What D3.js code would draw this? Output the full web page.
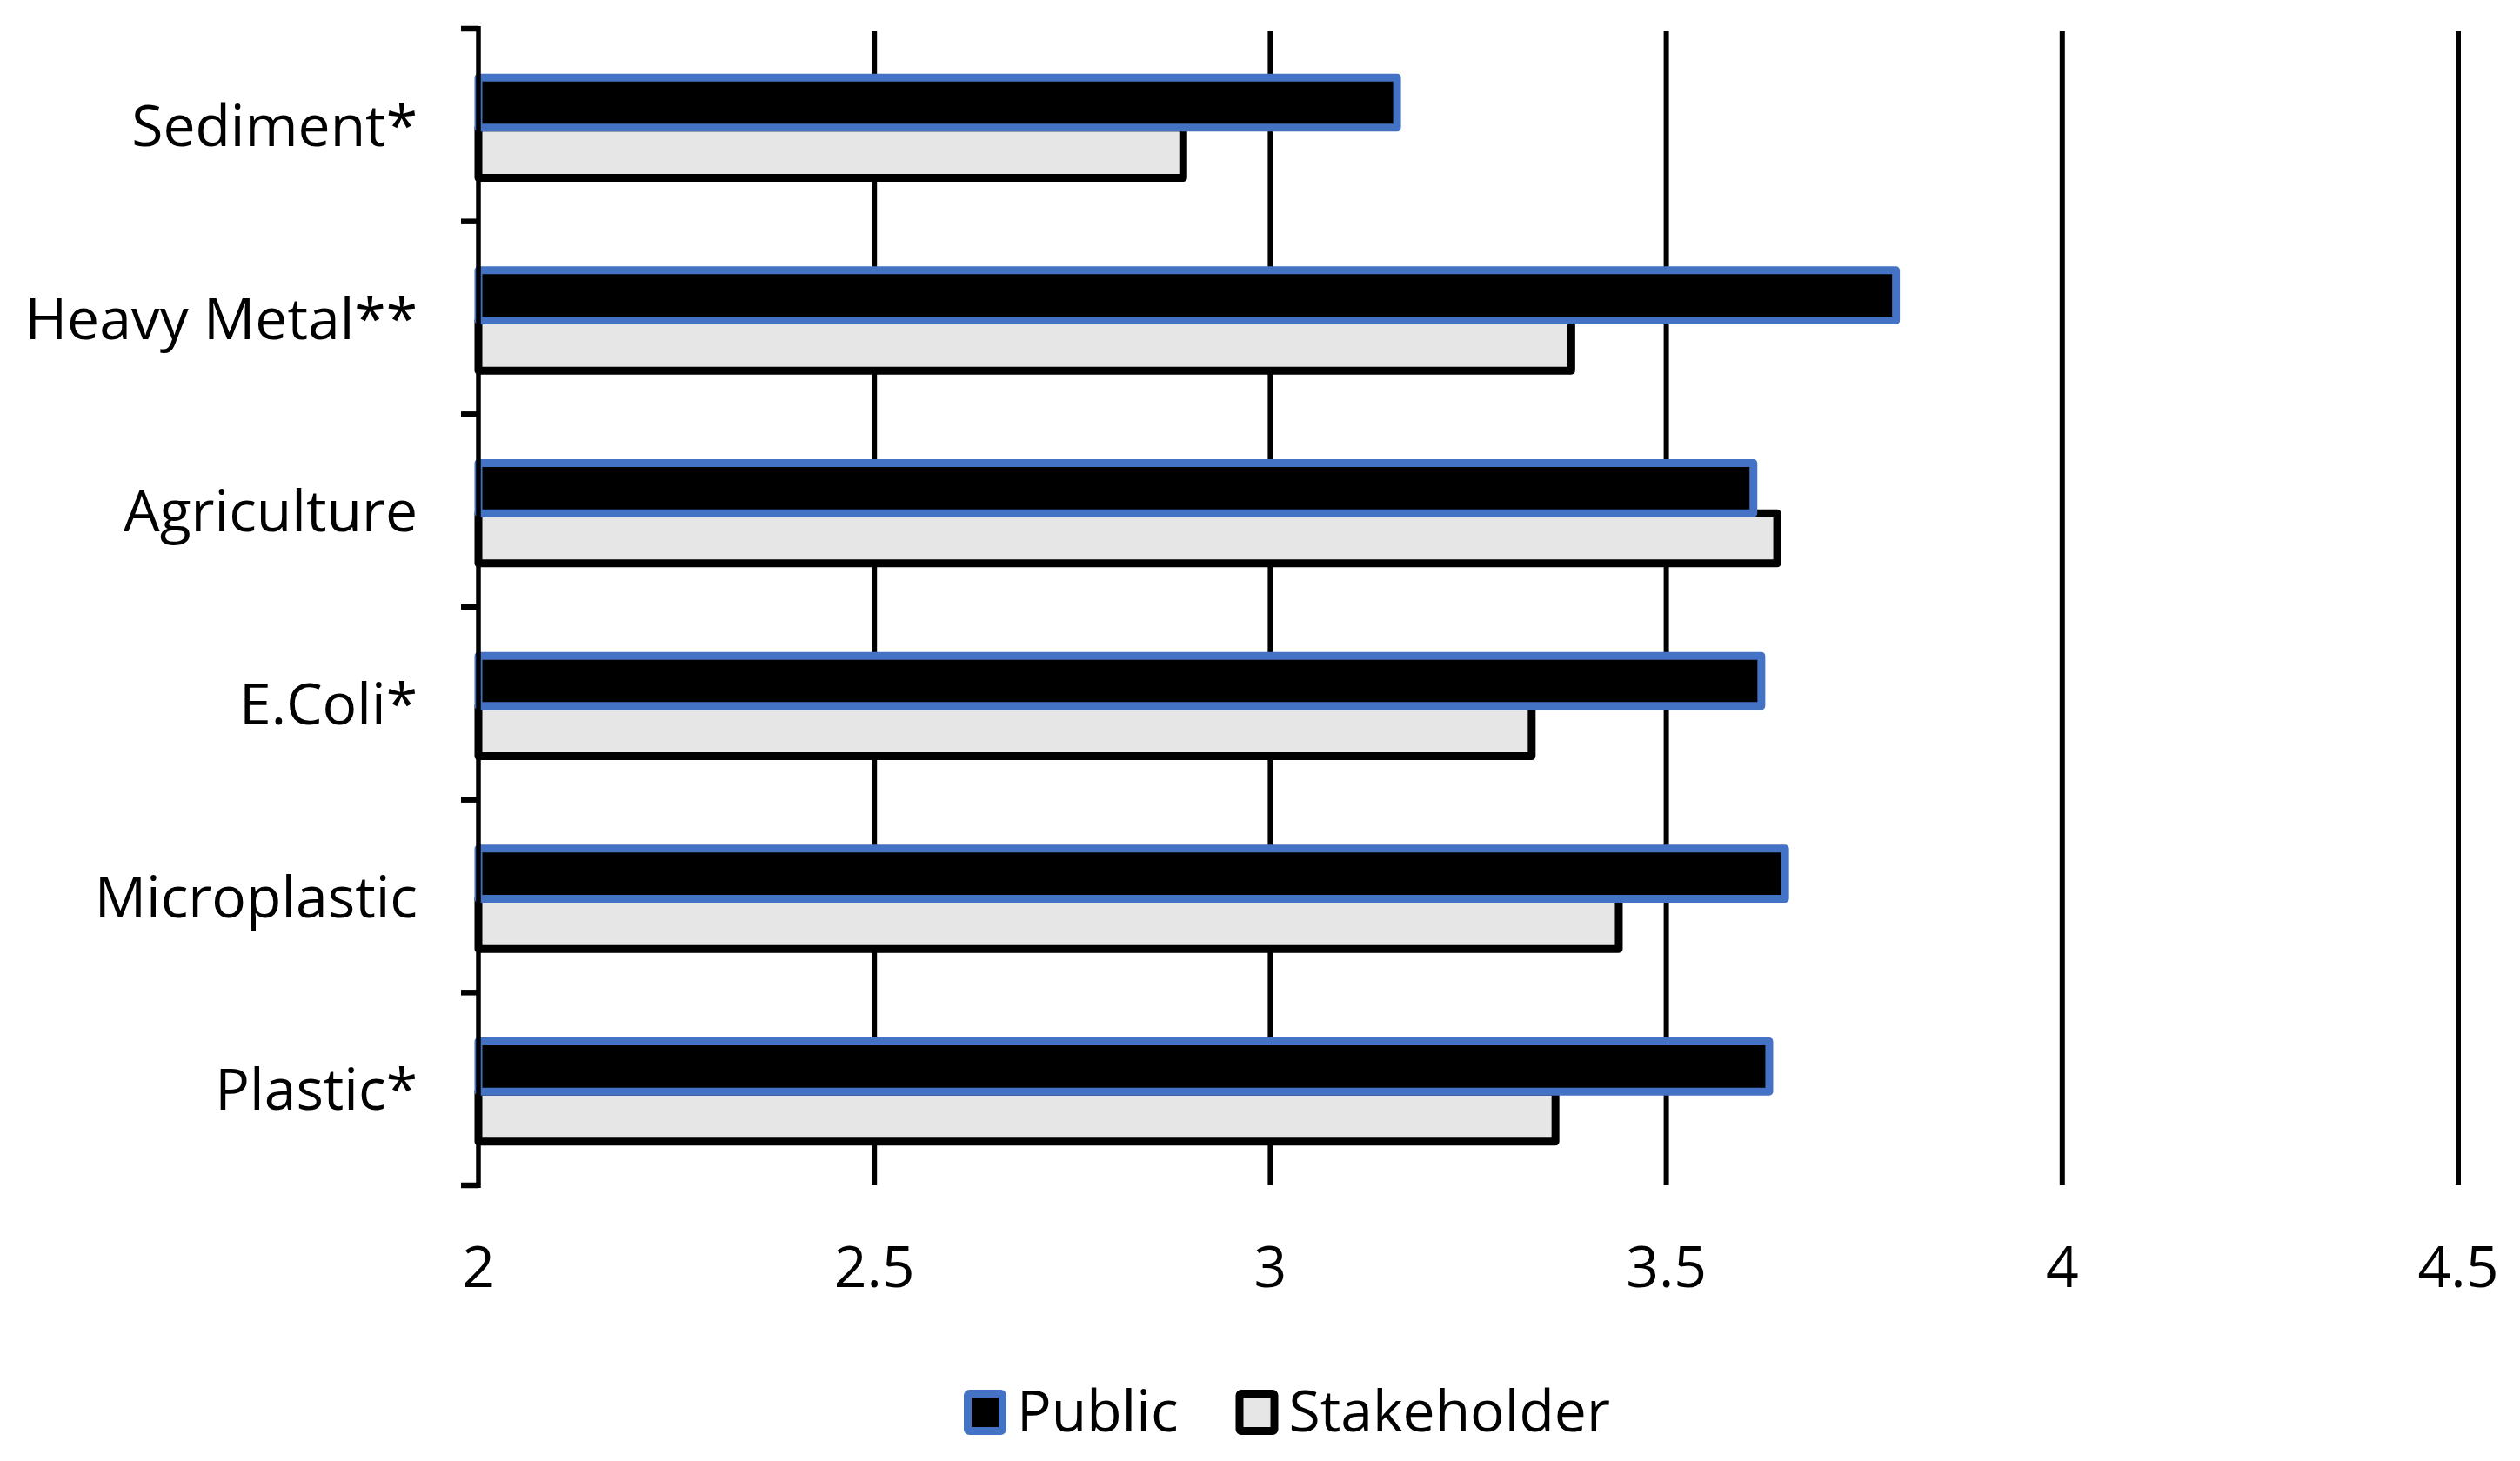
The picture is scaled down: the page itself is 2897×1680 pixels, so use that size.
<!DOCTYPE html>
<html>
<head>
<meta charset="utf-8">
<script src="https://cdn.jsdelivr.net/npm/d3@7"></script>
<style>
  html, body { margin: 0; padding: 0; background: #fff; }
  text { font-family: "Open Sans", sans-serif; fill: #000; }
</style>
</head>
<body>
<div id="chart"></div>
<script>
'use strict';

var categories = ['Sediment*', 'Heavy Metal**', 'Agriculture', 'E.Coli*', 'Microplastic', 'Plastic*'];
var seriesNames = ['Public', 'Stakeholder'];
var publicValues = [3.16, 3.79, 3.61, 3.62, 3.65, 3.63];
var stakeholderValues = [2.89, 3.38, 3.64, 3.33, 3.44, 3.36];
var xTicks = [2, 2.5, 3, 3.5, 4, 4.5];

var width = 2897;
var height = 1680;
var margin = {top: 33, right: 71, bottom: 317, left: 550};
var fontSize = 66;

var colors = {
	Public: {fill: '#000000', stroke: '#4472C4'},
	Stakeholder: {fill: '#E6E6E6', stroke: '#000000'}
};

var svg = d3.select('#chart').append('svg')
	.attr('width', width)
	.attr('height', height);

var innerW = width - margin.left - margin.right;
var innerH = height - margin.top - margin.bottom;

var g = svg.append('g')
	.attr('transform', 'translate(' + margin.left + ',' + margin.top + ')');

var x = d3.scaleLinear().domain([2, 4.5]).range([0, innerW]);

var y = d3.scaleBand()
	.domain(categories)
	.range([0, innerH])
	.paddingInner(0.48)
	.paddingOuter(0.24);

var ySub = d3.scaleBand()
	.domain(seriesNames)
	.range([0, y.bandwidth()]);

var rows = categories.map(function(c, i){
	return {cat: c, Public: publicValues[i], Stakeholder: stakeholderValues[i]};
});

// gridlines
g.append('g').attr('class', 'grid')
	.selectAll('line')
	.data(xTicks.slice(1))
	.enter().append('line')
		.attr('x1', function(d){ return x(d); })
		.attr('x2', function(d){ return x(d); })
		.attr('y1', 3)
		.attr('y2', innerH)
		.attr('stroke', '#000')
		.attr('stroke-width', 6);

// bars: stakeholder first so the public outline sits on top
var sw = 9;
['Stakeholder', 'Public'].forEach(function(s){
	g.append('g').attr('class', 'bars-' + s)
		.selectAll('rect')
		.data(rows)
		.enter().append('rect')
			.attr('x', x(2))
			.attr('y', function(d){ return y(d.cat) + ySub(s) + 3; })
			.attr('width', function(d){ return x(d[s]) - x(2); })
			.attr('height', ySub.bandwidth())
			.attr('fill', colors[s].fill)
			.attr('stroke', colors[s].stroke)
			.attr('stroke-width', sw)
			.attr('stroke-linejoin', 'round');
});

// y axis line + ticks at band boundaries
var yAxis = g.append('g').attr('class', 'y-axis');
yAxis.append('line')
	.attr('x1', 0).attr('x2', 0)
	.attr('y1', -3).attr('y2', innerH + 3)
	.attr('stroke', '#000')
	.attr('stroke-width', 5.5);

var bounds = d3.range(categories.length + 1).map(function(i){ return i*y.step(); });
yAxis.selectAll('line.tick')
	.data(bounds)
	.enter().append('line')
		.attr('class', 'tick')
		.attr('x1', -20).attr('x2', 0)
		.attr('y1', function(d){ return d; })
		.attr('y2', function(d){ return d; })
		.attr('stroke', '#000')
		.attr('stroke-width', 6.5);

yAxis.selectAll('text')
	.data(categories)
	.enter().append('text')
		.attr('x', -70)
		.attr('y', function(d){ return y(d) + y.bandwidth()/2 + 24; })
		.attr('text-anchor', 'end')
		.style('font-size', fontSize + 'px')
		.text(function(d){ return d; });

// x tick labels
g.append('g').attr('class', 'x-labels')
	.selectAll('text')
	.data(xTicks)
	.enter().append('text')
		.attr('x', function(d){ return x(d); })
		.attr('y', innerH + 117)
		.attr('text-anchor', 'middle')
		.style('font-size', fontSize + 'px')
		.text(function(d){ return d; });

// legend
var legend = svg.append('g').attr('class', 'legend')
	.attr('transform', 'translate(1108,1598)');
var lx = 0;
seriesNames.forEach(function(s){
	var item = legend.append('g').attr('transform', 'translate(' + lx + ',0)');
	item.append('rect')
		.attr('x', 4.5).attr('y', 4.5)
		.attr('width', 40).attr('height', 43)
		.attr('rx', 2)
		.attr('fill', colors[s].fill)
		.attr('stroke', colors[s].stroke)
		.attr('stroke-width', 9);
	var t = item.append('text')
		.attr('x', 61)
		.attr('y', 48)
		.style('font-size', fontSize + 'px')
		.text(s);
	lx += 61 + t.node().getComputedTextLength() + 66;
});
</script>
</body>
</html>
